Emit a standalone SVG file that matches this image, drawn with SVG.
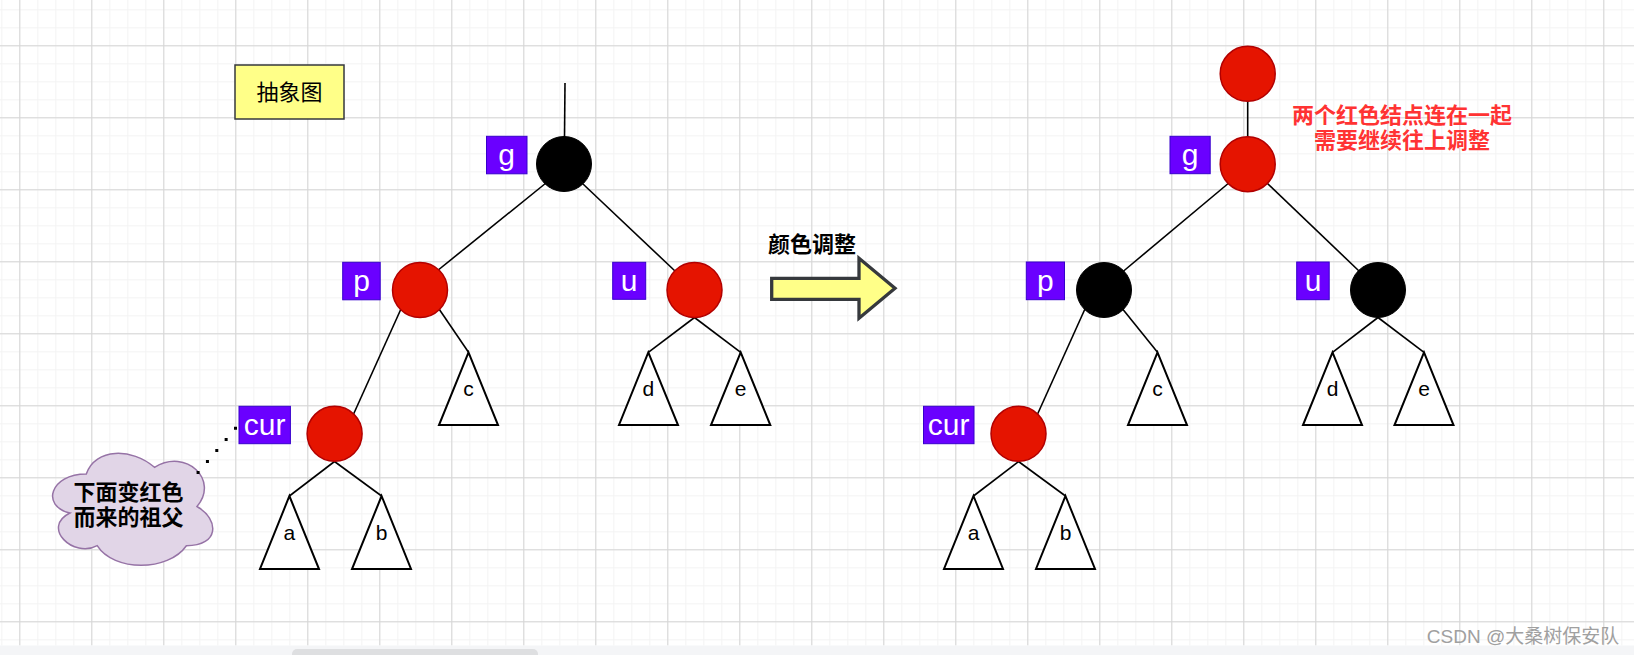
<svg xmlns="http://www.w3.org/2000/svg" width="1634" height="655" viewBox="0 0 1634 655">
<defs>
<pattern id="minor" x="19.3" y="45.3" width="18" height="18" patternUnits="userSpaceOnUse">
<path d="M0 0.5 H18 M0.5 0 V18" stroke="#f3f3f3" stroke-width="1" fill="none"/>
</pattern>
<pattern id="major" x="19.3" y="45.3" width="72" height="72" patternUnits="userSpaceOnUse">
<path d="M0 0.5 H72 M0.5 0 V72" stroke="#d5d5d5" stroke-width="1" fill="none"/>
</pattern>
<style>
.edge{stroke:#000;stroke-width:1.6;fill:none}
.red{fill:#e51400;stroke:#b20000;stroke-width:1.5}
.blk{fill:#000;stroke:#000;stroke-width:1}
.lab{fill:#6a00ff;stroke:#3700cc;stroke-width:1}
.labt{fill:#fff;font-family:"Liberation Sans",Arial,sans-serif;font-size:30px;text-anchor:middle}
.tri{fill:#fff;stroke:#000;stroke-width:2}
.trit{fill:#000;font-family:"Liberation Sans",Arial,sans-serif;font-size:21px;text-anchor:middle}
.cjk{font-family:"Noto Sans CJK SC","Liberation Sans",sans-serif;text-anchor:middle}
</style>
</defs>
<rect x="0" y="0" width="1634" height="655" fill="#fff"/>
<rect x="0" y="0" width="1634" height="645.5" fill="url(#minor)"/>
<rect x="0" y="0" width="1634" height="645.5" fill="url(#major)"/>
<rect x="0" y="645.5" width="1634" height="9.5" fill="#f4f5f7"/>
<rect x="292" y="649" width="246" height="12" rx="5" fill="#dedfe1"/>

<g id="cloud-note">
<path d="M86.3 473.9 C49.9 473.9 40.8 506.5 69.9 513 C40.8 527.4 73.6 558.7 97.2 545.7 C113.6 571.8 168.2 571.8 186.4 545.7 C219.5 545.7 219.5 519.6 197 506.5 C219.5 480.4 186.4 447.7 154.5 467.3 C131.8 447.7 95.4 447.7 86.3 473.9 Z" fill="#e1d5e7" stroke="#9673a6" stroke-width="1.5"/>
<text class="cjk" x="128.5" y="500" font-size="22" font-weight="bold" fill="#000">下面变红色</text>
<text class="cjk" x="128.5" y="525" font-size="22" font-weight="bold" fill="#000">而来的祖父</text>
</g>

<g id="connectors">
<path class="edge" d="M565 83 L564.5 137"/>
<path class="edge" d="M546 183 L437 271"/>
<path class="edge" d="M583 184 L675 271"/>
<path class="edge" d="M402.3 306 L352.7 416"/>
<path class="edge" d="M437 306 L468.5 352.3"/>
<path class="edge" d="M694.5 317.5 L648.3 352.3"/>
<path class="edge" d="M694.5 317.5 L740.7 352.3"/>
<path class="edge" d="M334.5 461.5 L289.4 496"/>
<path class="edge" d="M334.5 461.5 L381.6 496"/>
<path class="edge" d="M1247.7 101 L1247.7 137"/>
<path class="edge" d="M1230 182 L1123.6 271"/>
<path class="edge" d="M1267 183 L1359 271"/>
<path class="edge" d="M1086.3 306 L1036.7 416"/>
<path class="edge" d="M1120.2 306 L1157.5 352.3"/>
<path class="edge" d="M1378 317.5 L1332.5 352.3"/>
<path class="edge" d="M1378 317.5 L1424 352.3"/>
<path class="edge" d="M1018.5 461.5 L973.5 496"/>
<path class="edge" d="M1018.5 461.5 L1065.5 496"/>
<path d="M235.5 428.3 L198 472.7" stroke="#000" stroke-width="3" stroke-dasharray="0 14.5" stroke-linecap="square" fill="none"/>
</g>

<g id="note-abstract">
<rect x="235" y="65" width="109" height="54" fill="#ffff88" stroke="#36393d" stroke-width="1.5"/>
<text class="cjk" x="289.5" y="100" font-size="22" fill="#000">抽象图</text>
</g>

<g id="L-g">
<circle class="blk" cx="564" cy="164" r="27.5"/>
<rect class="lab" x="486.5" y="136.3" width="40.5" height="37.5"/>
<text class="labt" x="506.7" y="164.5">g</text>
</g>
<g id="L-p">
<circle class="red" cx="420" cy="290" r="27.5"/>
<rect class="lab" x="342.7" y="262.3" width="37.5" height="37.5"/>
<text class="labt" x="361.5" y="290.5">p</text>
</g>
<g id="L-u">
<circle class="red" cx="694.5" cy="290" r="27.5"/>
<rect class="lab" x="612.7" y="262.3" width="33" height="37"/>
<text class="labt" x="629.2" y="290.5">u</text>
</g>
<g id="L-cur">
<circle class="red" cx="334.6" cy="433.8" r="27.5"/>
<rect class="lab" x="239" y="406.3" width="51.4" height="37.4"/>
<text class="labt" x="264.7" y="434.5">cur</text>
</g>
<g id="L-c"><path class="tri" d="M468.5 352.3 L498 425 L439 425 Z"/><text class="trit" x="468.5" y="396">c</text></g>
<g id="L-d"><path class="tri" d="M648.3 352.3 L678 425 L619 425 Z"/><text class="trit" x="648.3" y="396">d</text></g>
<g id="L-e"><path class="tri" d="M740.7 352.3 L770.3 425 L711 425 Z"/><text class="trit" x="740.7" y="396">e</text></g>
<g id="L-a"><path class="tri" d="M289.4 496 L319 569 L260 569 Z"/><text class="trit" x="289.4" y="540">a</text></g>
<g id="L-b"><path class="tri" d="M381.6 496 L411 569 L352 569 Z"/><text class="trit" x="381.6" y="540">b</text></g>

<g id="arrow">
<text class="cjk" x="812" y="252" font-size="22" font-weight="bold" fill="#000">颜色调整</text>
<path d="M771.7 278.3 H859 V258.3 L895 288.3 L859 318.3 V299.3 H771.7 Z" fill="#ffff88" stroke="#36393d" stroke-width="3.3" stroke-linejoin="miter"/>
</g>

<g id="R-top">
<circle class="red" cx="1247.7" cy="73.8" r="27.5"/>
</g>
<g id="R-g">
<circle class="red" cx="1247.7" cy="164.2" r="27.5"/>
<rect class="lab" x="1170" y="136.3" width="40.2" height="37.4"/>
<text class="labt" x="1190.1" y="164.5">g</text>
</g>
<g id="R-p">
<circle class="blk" cx="1104" cy="290" r="27.5"/>
<rect class="lab" x="1026.3" y="262" width="38.2" height="37.7"/>
<text class="labt" x="1045.4" y="290.5">p</text>
</g>
<g id="R-u">
<circle class="blk" cx="1378" cy="290" r="27.5"/>
<rect class="lab" x="1296.7" y="262" width="32.5" height="37.7"/>
<text class="labt" x="1313" y="290.5">u</text>
</g>
<g id="R-cur">
<circle class="red" cx="1018.5" cy="433.8" r="27.5"/>
<rect class="lab" x="923.5" y="406.3" width="50.5" height="37.4"/>
<text class="labt" x="948.7" y="434.5">cur</text>
</g>
<g id="R-c"><path class="tri" d="M1157.5 352.3 L1187 425 L1128 425 Z"/><text class="trit" x="1157.5" y="396">c</text></g>
<g id="R-d"><path class="tri" d="M1332.5 352.3 L1362 425 L1303 425 Z"/><text class="trit" x="1332.5" y="396">d</text></g>
<g id="R-e"><path class="tri" d="M1424 352.3 L1453.5 425 L1394.5 425 Z"/><text class="trit" x="1424" y="396">e</text></g>
<g id="R-a"><path class="tri" d="M973.5 496 L1003 569 L944 569 Z"/><text class="trit" x="973.5" y="540">a</text></g>
<g id="R-b"><path class="tri" d="M1065.5 496 L1095 569 L1036 569 Z"/><text class="trit" x="1065.5" y="540">b</text></g>

<g id="red-note">
<text class="cjk" x="1402" y="123" font-size="22" font-weight="bold" fill="#ff3333">两个红色结点连在一起</text>
<text class="cjk" x="1402" y="148" font-size="22" font-weight="bold" fill="#ff3333">需要继续往上调整</text>
</g>

<text x="1523" y="642.5" font-family="'Liberation Sans','Noto Sans CJK SC',sans-serif" font-size="19" fill="#a0a0a0" text-anchor="middle">CSDN @大桑树保安队</text>
</svg>
